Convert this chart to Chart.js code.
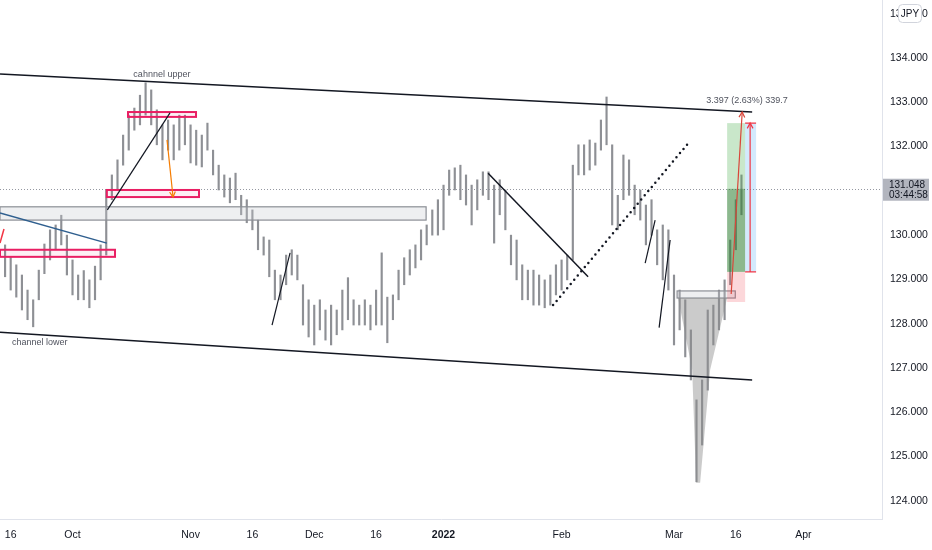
<!DOCTYPE html>
<html>
<head>
<meta charset="utf-8">
<script src="https://cdn.jsdelivr.net/npm/chart.js@4.4.1/dist/chart.umd.min.js"></script>
<style>
  html, body { margin: 0; padding: 0; background: #fff; }
  #wrap { width: 932px; height: 550px; }
</style>
</head>
<body>
<div id="wrap"><canvas id="chart" width="932" height="550"></canvas></div>
<script>
// trading day index 0 = Sep 16 2021, first bar at day -1
const firstDay = -1;

// daily lows / highs
const lows = [
  129.06, 128.76, 128.60, 128.31, 128.09, 127.93, 128.54, 129.13, 129.44, 129.67,
  129.78, 129.10, 128.65, 128.54, 128.54, 128.36, 128.54, 128.99, 129.55, 130.80,
  131.02, 131.58, 131.92, 132.37, 132.49, 132.71, 132.49, 132.04, 131.70, 131.92,
  131.70, 131.92, 132.04, 131.63, 131.58, 131.54, 131.92, 131.36, 131.02, 130.86,
  130.73, 130.80, 130.46, 130.28, 130.12, 129.67, 129.55, 129.06, 128.54, 128.54,
  128.88, 129.10, 128.99, 127.97, 127.70, 127.52, 127.86, 127.63, 127.52, 127.75,
  127.86, 128.09, 127.97, 127.97, 127.97, 127.86, 127.97, 127.97, 127.57, 128.09,
  128.54, 128.88, 129.10, 129.26, 129.44, 129.78, 130.00, 130.00, 130.12, 130.90,
  131.02, 130.80, 130.68, 130.23, 130.57, 130.90, 130.80, 129.82, 130.46, 130.12,
  129.33, 128.99, 128.54, 128.54, 128.42, 128.42, 128.36, 128.42, 128.65, 128.76,
  128.99, 129.44, 131.36, 131.36, 131.47, 131.58, 131.92, 132.04, 130.23, 130.12,
  130.80, 130.90, 130.46, 130.34, 129.78, 130.00, 129.33, 128.99, 128.76, 127.52,
  127.86, 127.25, 126.73, 124.43, 125.26, 126.50, 127.52, 127.86, 128.09, 128.88,
  129.67, 130.46
];
const highs = [
  129.78, 129.51, 129.33, 129.10, 128.76, 128.54, 129.21, 129.80, 130.12, 130.23,
  130.45, 130.00, 129.44, 129.10, 129.20, 128.99, 129.30, 129.78, 131.02, 131.36,
  131.70, 132.26, 132.71, 132.87, 133.16, 133.44, 133.28, 132.83, 132.49, 132.60,
  132.49, 132.71, 132.71, 132.49, 132.37, 132.26, 132.53, 131.92, 131.58, 131.36,
  131.29, 131.40, 130.90, 130.80, 130.57, 130.34, 129.96, 129.89, 129.21, 129.10,
  129.55, 129.67, 129.55, 128.88, 128.54, 128.42, 128.54, 128.31, 128.42, 128.31,
  128.76, 129.04, 128.54, 128.42, 128.54, 128.42, 128.76, 129.60, 128.60, 128.65,
  129.21, 129.49, 129.67, 129.78, 130.12, 130.23, 130.57, 130.80, 131.13, 131.47,
  131.52, 131.58, 131.36, 131.13, 131.25, 131.43, 131.43, 131.13, 131.25, 131.02,
  130.00, 129.89, 129.33, 129.21, 129.21, 129.10, 128.99, 129.10, 129.33, 129.44,
  129.55, 131.58, 132.04, 132.04, 132.15, 132.08, 132.60, 133.12, 132.04, 130.90,
  131.81, 131.70, 131.13, 131.02, 130.68, 130.80, 130.12, 130.23, 130.12, 129.10,
  128.76, 128.54, 127.86, 126.28, 126.73, 128.31, 128.42, 128.76, 128.99, 129.89,
  130.80, 131.36
];

const lastPrice = 131.048;
const countdown = '03:44:58';

// axis ticks
const xTickDays = [0, 11, 32, 43, 54, 65, 77, 98, 118, 129, 141];
const xTickLabels = ['16', 'Oct', 'Nov', '16', 'Dec', '16', '2022', 'Feb', 'Mar', '16', 'Apr'];
const yTicks = [124, 125, 126, 127, 128, 129, 130, 131, 132, 133, 134, 135];

// drawings in (day, price)
const trendLines = [
  { pts: [[-1.9, 133.64], [131.9, 132.78]], color: '#131722', w: 1.5 },
  { pts: [[-1.9, 127.81], [131.9, 126.73]], color: '#131722', w: 1.5 },
  { pts: [[17.2, 130.57], [28.34, 132.76]], color: '#131722', w: 1.2 },
  { pts: [[-1.9, 130.50], [17.1, 129.82]], color: '#2f5f8f', w: 1.5 },
  { pts: [[-1.9, 129.82], [-1.19, 130.14]], color: '#f23645', w: 1.5 },
  { pts: [[46.49, 127.97], [49.70, 129.60]], color: '#131722', w: 1.2 },
  { pts: [[84.93, 131.40], [102.72, 129.06]], color: '#131722', w: 1.5 },
  { pts: [[112.87, 129.37], [114.64, 130.34]], color: '#131722', w: 1.2 },
  { pts: [[115.35, 127.91], [117.31, 129.89]], color: '#131722', w: 1.2 }
];
const dottedLine = [[96.49, 128.42], [120.69, 132.10]];
const pinkBoxes = [
  [20.87, 132.78, 32.97, 132.67],
  [17.1, 131.02, 33.5, 130.86],
  [-1.9, 129.67, 18.56, 129.51]
];
const greyBoxes = [
  [-1.9, 130.64, 73.9, 130.34],
  [118.55, 128.74, 128.9, 128.58]
];
const greyWedge = [[118.73, 128.58], [127.45, 128.58], [124.43, 126.96], [122.65, 124.41], [121.94, 124.41], [121.23, 126.96]];

const days = lows.map((_, i) => firstDay + i);
const tickFont = '"Liberation Sans", Arial, sans-serif';

const drawings = {
  id: 'drawings',
  afterDatasetsDraw(chart) {
    const { ctx, chartArea: a, scales: { x, y } } = chart;
    const X = d => x.getPixelForValue(d);
    const Y = p => y.getPixelForValue(p);
    const arrowHead = (x1, y1, x2, y2, len) => {
      const ang = Math.atan2(y2 - y1, x2 - x1);
      ctx.beginPath();
      ctx.moveTo(x2 - len * Math.cos(ang - 0.5), y2 - len * Math.sin(ang - 0.5));
      ctx.lineTo(x2, y2);
      ctx.lineTo(x2 - len * Math.cos(ang + 0.5), y2 - len * Math.sin(ang + 0.5));
      ctx.stroke();
    };
    ctx.save();
    ctx.beginPath();
    ctx.rect(a.left, a.top, a.right - a.left, a.bottom - a.top);
    ctx.clip();

    // last price dotted line
    ctx.strokeStyle = '#9598a1';
    ctx.lineWidth = 1;
    ctx.setLineDash([1, 2]);
    ctx.beginPath();
    ctx.moveTo(a.left, Math.round(Y(lastPrice)) + 0.5);
    ctx.lineTo(a.right, Math.round(Y(lastPrice)) + 0.5);
    ctx.stroke();
    ctx.setLineDash([]);

    // grey zones
    greyBoxes.forEach(b => {
      ctx.fillStyle = 'rgba(200,202,208,0.3)';
      ctx.fillRect(X(b[0]), Y(b[1]), X(b[2]) - X(b[0]), Y(b[3]) - Y(b[1]));
      ctx.strokeStyle = '#8c8f96';
      ctx.lineWidth = 1.2;
      ctx.strokeRect(X(b[0]), Y(b[1]), X(b[2]) - X(b[0]), Y(b[3]) - Y(b[1]));
    });

    // wedge
    ctx.fillStyle = 'rgba(140,140,140,0.45)';
    ctx.beginPath();
    greyWedge.forEach((p, i) => i ? ctx.lineTo(X(p[0]), Y(p[1])) : ctx.moveTo(X(p[0]), Y(p[1])));
    ctx.closePath();
    ctx.fill();

    // pink boxes
    pinkBoxes.forEach(b => {
      ctx.fillStyle = 'rgba(233,30,99,0.07)';
      ctx.fillRect(X(b[0]), Y(b[1]), X(b[2]) - X(b[0]), Y(b[3]) - Y(b[1]));
      ctx.strokeStyle = '#e91e63';
      ctx.lineWidth = 2;
      ctx.strokeRect(X(b[0]), Y(b[1]), X(b[2]) - X(b[0]), Y(b[3]) - Y(b[1]));
    });

    // trend lines
    trendLines.forEach(l => {
      ctx.strokeStyle = l.color;
      ctx.lineWidth = l.w;
      ctx.beginPath();
      ctx.moveTo(X(l.pts[0][0]), Y(l.pts[0][1]));
      ctx.lineTo(X(l.pts[1][0]), Y(l.pts[1][1]));
      ctx.stroke();
    });

    // dotted trend line
    ctx.strokeStyle = '#131722';
    ctx.lineWidth = 2.5;
    ctx.lineCap = 'round';
    ctx.setLineDash([0, 5.5]);
    ctx.beginPath();
    ctx.moveTo(X(dottedLine[0][0]), Y(dottedLine[0][1]));
    ctx.lineTo(X(dottedLine[1][0]), Y(dottedLine[1][1]));
    ctx.stroke();
    ctx.setLineDash([]);
    ctx.lineCap = 'butt';

    // orange arrow
    ctx.strokeStyle = '#f57c00';
    ctx.lineWidth = 1.2;
    ctx.beginPath();
    ctx.moveTo(X(27.81), Y(132.15));
    ctx.lineTo(X(28.88), Y(130.86));
    ctx.stroke();
    arrowHead(X(27.81), Y(132.15), X(28.88), Y(130.86), 6);

    // long position tool
    const l0 = X(127.45), l1 = X(130.65), b1 = X(132.6);
    ctx.fillStyle = 'rgba(76,175,80,0.3)';
    ctx.fillRect(l0, Y(132.53), l1 - l0, Y(lastPrice) - Y(132.53));
    ctx.fillStyle = 'rgba(46,125,50,0.55)';
    ctx.fillRect(l0, Y(lastPrice), l1 - l0, Y(129.17) - Y(lastPrice));
    ctx.fillStyle = 'rgba(242,54,69,0.2)';
    ctx.fillRect(l0, Y(129.17), l1 - l0, Y(128.49) - Y(129.17));
    ctx.fillStyle = 'rgba(33,150,243,0.2)';
    ctx.fillRect(l1, Y(132.53), b1 - l1, Y(129.17) - Y(132.53));
    ctx.strokeStyle = '#f23645';
    ctx.lineWidth = 1.2;
    ctx.beginPath();
    ctx.moveTo(l1, Y(132.53)); ctx.lineTo(b1, Y(132.53));
    ctx.moveTo(l1, Y(129.17)); ctx.lineTo(b1, Y(129.17));
    ctx.moveTo(X(131.54), Y(129.17)); ctx.lineTo(X(131.54), Y(132.53));
    ctx.stroke();
    arrowHead(X(131.54), Y(129.17), X(131.54), Y(132.53), 6);
    ctx.strokeStyle = '#d9463a';
    ctx.beginPath();
    ctx.moveTo(X(128.17), Y(128.67));
    ctx.lineTo(X(130.13), Y(132.78));
    ctx.stroke();
    arrowHead(X(128.17), Y(128.67), X(130.13), Y(132.78), 6);
    ctx.restore();

    // texts
    ctx.save();
    ctx.fillStyle = '#50535e';
    ctx.font = '9px ' + tickFont;
    ctx.textBaseline = 'middle';
    ctx.textAlign = 'center';
    ctx.fillText('cahnnel upper', X(26.9), Y(133.62));
    ctx.fillText('3.397 (2.63%) 339.7', X(131.0), Y(133.03));
    ctx.textAlign = 'left';
    ctx.fillText('channel lower', X(0.23), Y(127.57));
    ctx.restore();
  },
  afterDraw(chart) {
    const { ctx, chartArea: a, scales: { y } } = chart;
    ctx.save();
    // last price label
    const py = y.getPixelForValue(lastPrice);
    ctx.fillStyle = '#b2b5be';
    ctx.fillRect(a.right + 1, py - 10, 46, 22);
    ctx.fillStyle = '#131722';
    ctx.font = '10px ' + tickFont;
    ctx.textAlign = 'left';
    ctx.textBaseline = 'middle';
    ctx.fillText(lastPrice.toFixed(3), a.right + 7, py - 3);
    ctx.fillText(countdown, a.right + 7, py + 7);
    // currency badge
    ctx.fillStyle = '#fff';
    ctx.strokeStyle = '#d1d4dc';
    ctx.lineWidth = 1;
    ctx.beginPath();
    ctx.roundRect(898.5, 4.5, 23, 18, 4);
    ctx.fill();
    ctx.stroke();
    ctx.fillStyle = '#131722';
    ctx.textAlign = 'center';
    ctx.fillText('JPY', 910, 14);
    ctx.restore();
  }
};

new Chart(document.getElementById('chart'), {
  type: 'bar',
  data: {
    datasets: [{
      data: days.map((d, i) => ({ x: d, y: [lows[i], highs[i]] })),
      backgroundColor: '#8e9095',
      barThickness: 1.5,
      borderWidth: 0
    }]
  },
  options: {
    responsive: false,
    animation: false,
    layout: { padding: 0 },
    plugins: { legend: { display: false }, tooltip: { enabled: false } },
    scales: {
      x: {
        type: 'linear',
        offset: false,
        min: -1.9,
        max: 155,
        grid: { display: false, drawTicks: false, offset: false },
        border: { display: true, color: '#e0e3eb' },
        afterBuildTicks: s => { s.ticks = xTickDays.map(v => ({ value: v })); },
        afterFit: s => { s.height = 31; s.paddingLeft = 0; s.paddingRight = 0; },
        ticks: {
          autoSkip: false,
          maxRotation: 0,
          padding: 10,
          color: '#131722',
          font: c => ({ family: tickFont, size: 10.5, weight: c.tick && c.tick.value === 77 ? 'bold' : 'normal' }),
          callback: v => xTickLabels[xTickDays.indexOf(v)]
        }
      },
      y: {
        type: 'linear',
        position: 'right',
        min: 123.59,
        max: 135.31,
        grid: { display: false, drawTicks: false },
        border: { display: true, color: '#e0e3eb' },
        afterBuildTicks: s => { s.ticks = yTicks.map(v => ({ value: v })); },
        afterFit: s => { s.width = 50; s.paddingTop = 0; s.paddingBottom = 0; },
        ticks: {
          padding: 8,
          color: '#131722',
          font: { family: tickFont, size: 10.5 },
          callback: v => v.toFixed(3)
        }
      }
    }
  },
  plugins: [drawings]
});
</script>
</body>
</html>
